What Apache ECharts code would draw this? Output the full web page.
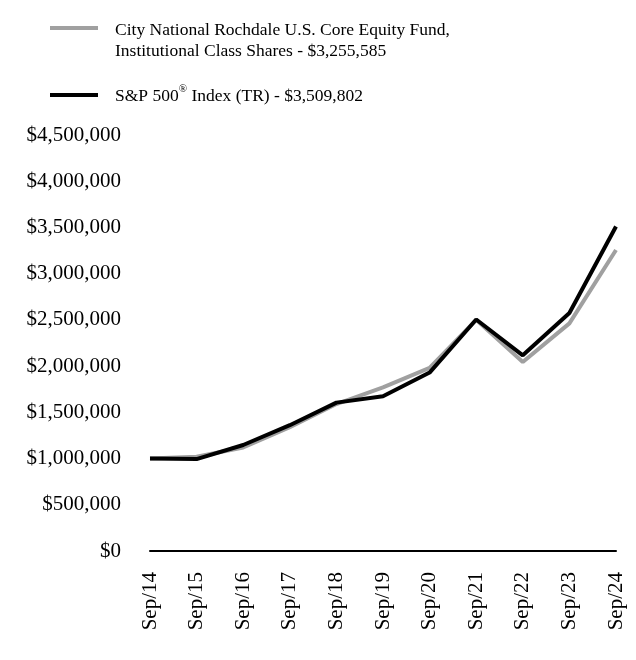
<!DOCTYPE html>
<html>
<head>
<meta charset="utf-8">
<script src="https://cdn.jsdelivr.net/npm/echarts@6/dist/echarts.min.js"></script>
<style>html,body{margin:0;padding:0;background:#fff;}#c{width:636px;height:660px;}</style>
</head>
<body>
<div id="c"></div>
<script>
const categories = ['Sep/14','Sep/15','Sep/16','Sep/17','Sep/18','Sep/19','Sep/20','Sep/21','Sep/22','Sep/23','Sep/24'];
const fundName = 'City National Rochdale U.S. Core Equity Fund, Institutional Class Shares';
const indexName = 'S&P 500® Index (TR)';
const fundValues = [1000000, 1020000, 1120000, 1340000, 1590000, 1770000, 1980000, 2500000, 2045000, 2462000, 3255585];
const indexValues = [1000000, 993900, 1147000, 1361000, 1605000, 1673000, 1930000, 2504000, 2117000, 2574000, 3509802];
const yTicks = [0, 500000, 1000000, 1500000, 2000000, 2500000, 3000000, 3500000, 4000000, 4500000];

const FONT = '"Liberation Serif", "Times New Roman", serif';
const chart = echarts.init(document.getElementById('c'), null, {renderer: 'canvas'});
const fmt = v => '$' + v.toLocaleString('en-US');
chart.setOption({
  animation: false,
  backgroundColor: '#fff',
  grid: {left: 150, right: 20, top: 135, bottom: 109, containLabel: false},
  xAxis: {
    type: 'category', data: categories, boundaryGap: false,
    axisLine: {lineStyle: {color: '#000', width: 2}},
    axisTick: {show: false},
    axisLabel: {rotate: 90, margin: 21, color: '#000', fontFamily: FONT, fontSize: 21}
  },
  yAxis: {
    type: 'value', min: yTicks[0], max: yTicks[yTicks.length - 1], interval: 500000,
    axisLine: {show: false}, axisTick: {show: false}, splitLine: {show: false},
    axisLabel: {margin: 29, color: '#000', fontFamily: FONT, fontSize: 21, formatter: fmt}
  },
  graphic: [
    {type: 'line', shape: {x1: 50, y1: 28, x2: 98, y2: 28}, style: {stroke: '#a0a0a0', lineWidth: 4}},
    {type: 'text', left: 115, top: 20, style: {text: fundName.replace(', ', ',\n') + ' - ' + fmt(fundValues[fundValues.length-1]), font: '17.5px ' + FONT, fill: '#000', lineHeight: 21}},
    {type: 'line', shape: {x1: 50, y1: 95, x2: 98, y2: 95}, style: {stroke: '#000', lineWidth: 4}},
    {type: 'text', left: 115, top: 84, style: {
      text: '{a|S&P 500}{s|®}{a| Index (TR) - ' + fmt(indexValues[indexValues.length-1]) + '}',
      rich: {a: {font: '17.5px ' + FONT, fill: '#000', lineHeight: 21, verticalAlign: 'bottom'},
             s: {font: '11px ' + FONT, fill: '#000', lineHeight: 21, verticalAlign: 'top'}}
    }}
  ],
  series: [
    {name: fundName, type: 'line', data: fundValues, symbol: 'none', lineStyle: {color: '#a0a0a0', width: 4}, z: 2},
    {name: indexName, type: 'line', data: indexValues, symbol: 'none', lineStyle: {color: '#000', width: 4}, z: 3}
  ]
});
</script>
</body>
</html>
